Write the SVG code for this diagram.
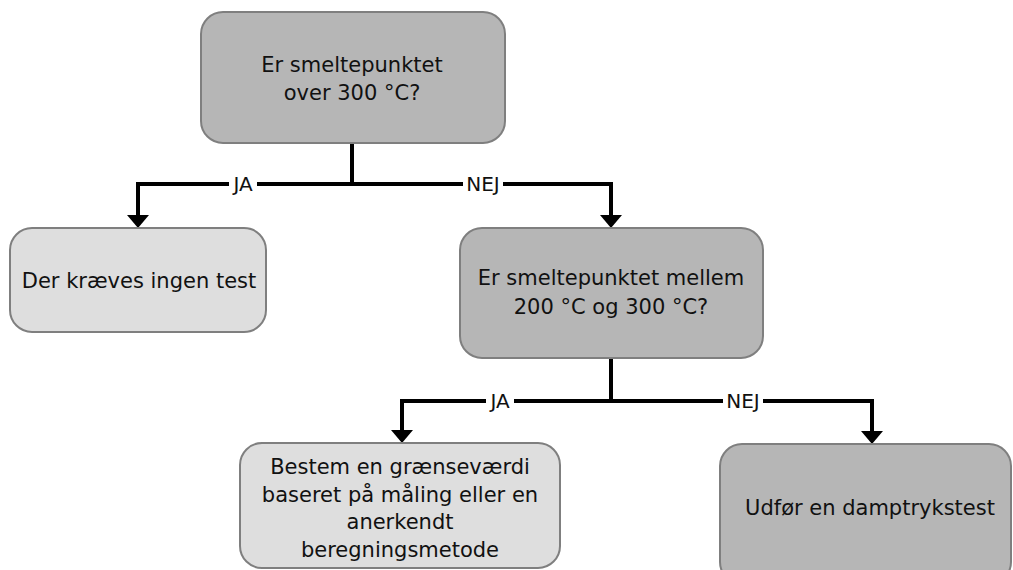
<svg xmlns="http://www.w3.org/2000/svg" width="1013" height="570" viewBox="0 0 1013 570">
  <defs>
    <!-- arrowhead drawn along +x, rotated with the path direction; tip sits 6px past the line end -->
    <marker id="arrow" viewBox="0 0 13 22" refX="7" refY="11" markerWidth="13" markerHeight="22" markerUnits="userSpaceOnUse" orient="auto">
      <path d="M0,0 L13,11 L0,22 Z" fill="#000"/>
    </marker>
  </defs>
  <style>
    .box { stroke: #7f7f7f; stroke-width: 2; }
    .dark { fill: #b6b6b6; }
    .light { fill: #dedede; }
    .txt { font-family: "DejaVu Sans", "Liberation Sans", sans-serif; font-size: 21px; fill: #111; text-anchor: middle; }
    .lbl { font-family: "DejaVu Sans", "Liberation Sans", sans-serif; font-size: 20px; fill: #111; text-anchor: middle; }
    .edge { fill: none; stroke: #000; stroke-width: 4; stroke-linejoin: miter; }
    .lblbg { fill: #fff; }
  </style>
  <rect width="1013" height="570" fill="#fff"/>

  <!-- connectors -->
  <g id="connectors">
    <path class="edge" d="M352,143 V184"/>
    <path class="edge" d="M352,184 H138 V222" marker-end="url(#arrow)"/>
    <path class="edge" d="M352,184 H611 V222" marker-end="url(#arrow)"/>
    <path class="edge" d="M611,358 V401"/>
    <path class="edge" d="M611,401 H402 V437" marker-end="url(#arrow)"/>
    <path class="edge" d="M611,401 H872 V438" marker-end="url(#arrow)"/>
    <rect class="lblbg" x="229" y="172" width="28" height="22"/>
    <text class="lbl" x="243" y="191">JA</text>
    <rect class="lblbg" x="463" y="172" width="40" height="22"/>
    <text class="lbl" x="483" y="191">NEJ</text>
    <rect class="lblbg" x="486" y="389" width="28" height="22"/>
    <text class="lbl" x="500" y="408">JA</text>
    <rect class="lblbg" x="723" y="389" width="40" height="22"/>
    <text class="lbl" x="743" y="408">NEJ</text>
  </g>

  <g id="q1">
    <rect class="box dark" x="201" y="12" width="304" height="131" rx="22"/>
    <text class="txt" x="352" y="72">Er smeltepunktet</text>
    <text class="txt" x="352" y="100">over 300 °C?</text>
  </g>

  <g id="no-test">
    <rect class="box light" x="10" y="228" width="256" height="104" rx="22"/>
    <text class="txt" x="139" y="288">Der kræves ingen test</text>
  </g>

  <g id="q2">
    <rect class="box dark" x="460" y="228" width="303" height="130" rx="22"/>
    <text class="txt" x="611" y="285">Er smeltepunktet mellem</text>
    <text class="txt" x="611" y="314">200 °C og 300 °C?</text>
  </g>

  <g id="limit-value">
    <rect class="box light" x="240" y="443" width="320" height="125" rx="22"/>
    <text class="txt" x="400" y="474">Bestem en grænseværdi</text>
    <text class="txt" x="400" y="502">baseret på måling eller en</text>
    <text class="txt" x="400" y="529">anerkendt</text>
    <text class="txt" x="400" y="557">beregningsmetode</text>
  </g>

  <g id="vapour-test">
    <rect class="box dark" x="720" y="444" width="291" height="140" rx="22"/>
    <text class="txt" x="870" y="515">Udfør en damptrykstest</text>
  </g>
</svg>
